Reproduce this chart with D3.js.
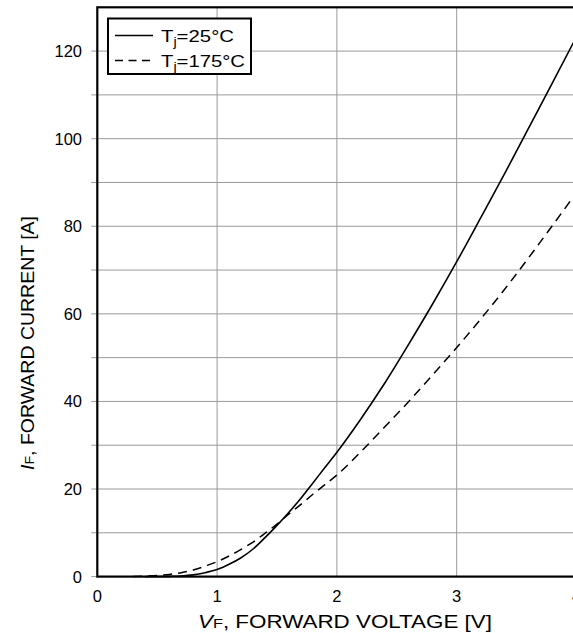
<!DOCTYPE html>
<html>
<head>
<meta charset="utf-8">
<script src="https://cdn.jsdelivr.net/npm/d3@7"></script>
<style>
  html, body { margin: 0; padding: 0; background: #fff; }
  svg { display: block; font-family: "Liberation Sans", Arial, sans-serif; }
</style>
</head>
<body>
<svg id="chart" width="573" height="633"></svg>
<script>
// ---- data ----
const xTicks = [0, 1, 2, 3, 4];
const yTickLabels = [0, 20, 40, 60, 80, 100, 120];
const yGrid = [10, 20, 30, 40, 50, 60, 70, 80, 90, 100, 110, 120];

const v25 = [0.4, 0.5, 0.6, 0.7, 0.8, 0.9, 1.0, 1.1, 1.2, 1.3, 1.4, 1.5, 1.6, 1.7, 1.8, 1.9, 2.0, 2.2, 2.4, 2.6, 2.8, 3.0, 3.2, 3.4, 3.6, 3.8, 4.0];
const i25 = [0.0, 0.02, 0.06, 0.15, 0.4, 0.9, 1.6, 2.8, 4.3, 6.3, 8.9, 11.7, 14.7, 17.9, 21.4, 24.9, 28.4, 36.0, 44.2, 53.1, 62.3, 71.9, 81.9, 92.0, 102.4, 112.8, 123.3];

const v175 = [0.3, 0.4, 0.5, 0.6, 0.7, 0.8, 0.9, 1.0, 1.1, 1.2, 1.3, 1.4, 1.5, 1.6, 1.7, 1.8, 1.9, 2.0, 2.2, 2.4, 2.6, 2.8, 3.0, 3.2, 3.4, 3.6, 3.8, 4.0];
const i175 = [0.0, 0.1, 0.25, 0.5, 0.9, 1.5, 2.4, 3.4, 4.7, 6.2, 7.9, 9.9, 12.0, 14.3, 16.5, 18.8, 21.0, 23.2, 28.5, 34.2, 40.0, 46.1, 52.3, 58.8, 65.6, 72.8, 80.2, 87.7];

const seriesNames = ["T|j|=25°C", "T|j|=175°C"];

// ---- layout ----
const svg = d3.select("#chart");
const x = d3.scaleLinear().domain([0, 4]).range([97.3, 576.5]);
const y = d3.scaleLinear().domain([0, 130]).range([576.6, 7.3]);

// gridlines
const g = svg.append("g");
g.selectAll("line.hg").data(yGrid).enter().append("line")
  .attr("x1", x(0)).attr("x2", x(4))
  .attr("y1", d => y(d)).attr("y2", d => y(d))
  .attr("stroke", "#9a9a9a").attr("stroke-width", 1);
g.selectAll("line.vg").data(xTicks.filter(d => d > 0)).enter().append("line")
  .attr("x1", d => x(d)).attr("x2", d => x(d))
  .attr("y1", y(0)).attr("y2", y(130))
  .attr("stroke", "#9a9a9a").attr("stroke-width", 1);

// y ticks (small marks every 10)
g.selectAll("line.yt").data([0].concat(yGrid)).enter().append("line")
  .attr("x1", x(0) - 6).attr("x2", x(0))
  .attr("y1", d => y(d)).attr("y2", d => y(d))
  .attr("stroke", "#9a9a9a").attr("stroke-width", 1);

// curves
const line = d3.line().x(d => x(d[0])).y(d => y(d[1])).curve(d3.curveMonotoneX);
const d25 = v25.map((v, i) => [v, i25[i]]);
const d175 = v175.map((v, i) => [v, i175[i]]);

svg.append("path").datum(d175).attr("d", line)
  .attr("fill", "none").attr("stroke", "#000").attr("stroke-width", 1.5)
  .attr("stroke-dasharray", "9,6");
svg.append("path").datum(d25).attr("d", line)
  .attr("fill", "none").attr("stroke", "#000").attr("stroke-width", 1.6);

// frame
svg.append("rect")
  .attr("x", x(0)).attr("y", y(130))
  .attr("width", x(4) - x(0)).attr("height", y(0) - y(130))
  .attr("fill", "none").attr("stroke", "#000").attr("stroke-width", 2.2);

// tick labels
svg.selectAll("text.yl").data(yTickLabels).enter().append("text")
  .attr("x", 82).attr("y", d => y(d)).attr("dy", "0.36em")
  .attr("text-anchor", "end").attr("font-size", 16.5).text(d => d);
svg.selectAll("text.xl").data(xTicks).enter().append("text")
  .attr("x", d => x(d)).attr("y", 602)
  .attr("text-anchor", "middle").attr("font-size", 16.5).text(d => d);

// axis titles
const xt = svg.append("text").attr("x", 198).attr("y", 628)
  .attr("font-size", 18.5)
  .attr("textLength", 294).attr("lengthAdjust", "spacingAndGlyphs");
xt.append("tspan").attr("font-style", "italic").text("V");
xt.append("tspan").attr("font-size", 13.5).text("F");
xt.append("tspan").text(", FORWARD VOLTAGE [V]");

const yt = svg.append("text").attr("transform", "translate(34,470) rotate(-90)")
  .attr("font-size", 18.5)
  .attr("textLength", 254).attr("lengthAdjust", "spacingAndGlyphs");
yt.append("tspan").attr("font-style", "italic").text("I");
yt.append("tspan").attr("font-size", 13.5).text("F");
yt.append("tspan").text(", FORWARD CURRENT [A]");

// legend
const lg = svg.append("g");
lg.append("rect").attr("x", 108).attr("y", 18.5).attr("width", 143).attr("height", 55.5)
  .attr("fill", "#fff").attr("stroke", "#000").attr("stroke-width", 2);
const legY = [35.5, 60.5];
const legLen = [73, 84];
const dashes = [null, "8,5.5"];
seriesNames.forEach((name, i) => {
  lg.append("line").attr("x1", 115).attr("x2", 153)
    .attr("y1", legY[i]).attr("y2", legY[i])
    .attr("stroke", "#000").attr("stroke-width", 1.5)
    .attr("stroke-dasharray", dashes[i]);
  const parts = name.split("|");
  const t = lg.append("text").attr("x", 161).attr("y", legY[i] + 6.2).attr("font-size", 17)
    .attr("textLength", legLen[i]).attr("lengthAdjust", "spacingAndGlyphs");
  t.append("tspan").text(parts[0]);
  t.append("tspan").attr("font-size", 12).attr("dy", 4).text(parts[1]);
  t.append("tspan").attr("dy", -4).text(parts[2]);
});
</script>
</body>
</html>
